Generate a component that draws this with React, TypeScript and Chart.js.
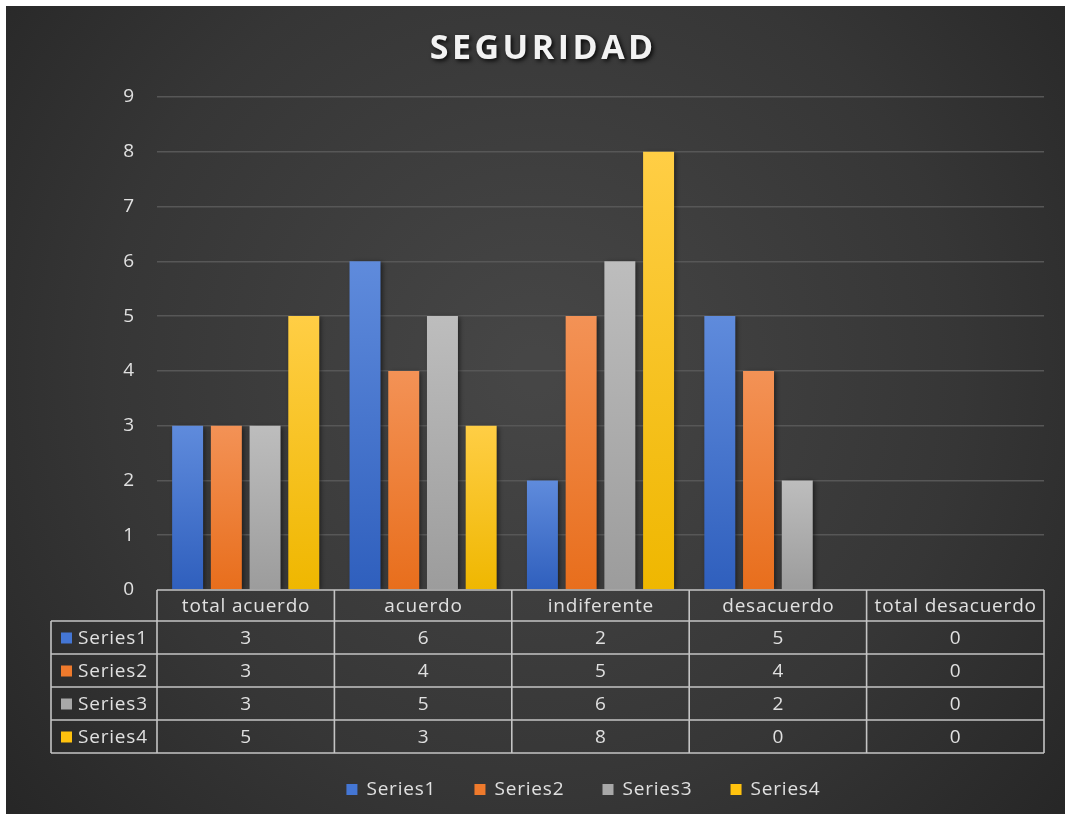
import React, { useEffect, useRef } from "react";
import { Chart, registerables } from "chart.js";

Chart.register(...registerables);

const TITLE = "SEGURIDAD";
const CATEGORIES = ["total acuerdo", "acuerdo", "indiferente", "desacuerdo", "total desacuerdo"];
const SERIES_NAMES = ["Series1", "Series2", "Series3", "Series4"];
const SERIES1 = [3, 6, 2, 5, 0];
const SERIES2 = [3, 4, 5, 4, 0];
const SERIES3 = [3, 5, 6, 2, 0];
const SERIES4 = [5, 3, 8, 0, 0];
const SERIES_VALUES = [SERIES1, SERIES2, SERIES3, SERIES4];
const Y_MIN = 0;
const Y_MAX = 9;
const Y_STEP = 1;

const SWATCH = ["#4476d4", "#ef7a2c", "#a8a8a8", "#ffc20e"];
const GRAD_TOP = ["#5f8bdc", "#f39256", "#bdbdbd", "#ffce45"];
const GRAD_BOTTOM = ["#2f5fbd", "#e86e1c", "#9c9c9c", "#efb700"];

const FONT = "'Open Sans', 'DejaVu Sans', sans-serif";
const TEXT_COLOR = "#e0e0e0";
const LS = 0.8;
const FS = 19;

function drawSpaced(ctx: CanvasRenderingContext2D, text: string, x: number, y: number, align: "left" | "center", ls: number) {
  (ctx as any).letterSpacing = ls + "px";
  ctx.textAlign = "left";
  const w = ctx.measureText(text).width - ls;
  const sx = align === "center" ? x - w / 2 : x;
  ctx.fillText(text, sx, y);
  (ctx as any).letterSpacing = "0px";
}

const backgroundPlugin = {
  id: "bgPlugin",
  beforeDraw(chart: any) {
    const { ctx, width, height } = chart;
    ctx.save();
    const g = ctx.createRadialGradient(width * 0.5, height * 0.45, 20, width * 0.5, height * 0.45, 700);
    g.addColorStop(0, "#464646");
    g.addColorStop(0.6, "#363636");
    g.addColorStop(1, "#262626");
    ctx.fillStyle = g;
    ctx.fillRect(0, 0, width, height);
    ctx.restore();
  },
};

const shadowPlugin = {
  id: "barShadow",
  beforeDatasetsDraw(chart: any) {
    const ctx = chart.ctx;
    ctx.save();
    ctx.shadowColor = "rgba(0,0,0,0.55)";
    ctx.shadowBlur = 5;
    ctx.shadowOffsetX = 2;
    ctx.shadowOffsetY = 1;
  },
  afterDatasetsDraw(chart: any) {
    chart.ctx.restore();
  },
};

const overlayPlugin = {
  id: "overlay",
  afterDraw(chart: any) {
    const { ctx, chartArea } = chart;
    const xScale = chart.scales.x;
    ctx.save();

    // Title
    ctx.font = `bold 34px ${FONT}`;
    ctx.textBaseline = "middle";
    ctx.fillStyle = "#f2f2f2";
    ctx.shadowColor = "rgba(0,0,0,0.85)";
    ctx.shadowBlur = 4;
    ctx.shadowOffsetX = 2;
    ctx.shadowOffsetY = 2;
    drawSpaced(ctx, TITLE, chart.width / 2 + 6, 43, "center", 3.5);
    ctx.shadowColor = "transparent";
    ctx.shadowBlur = 0;
    ctx.shadowOffsetX = 0;
    ctx.shadowOffsetY = 0;

    // Data table
    const n = CATEGORIES.length;
    const colW = (chartArea.right - chartArea.left) / n;
    const xs: number[] = [];
    for (let i = 0; i <= n; i++) {
      const c = i < n ? xScale.getPixelForValue(i) - colW / 2 : xScale.getPixelForValue(n - 1) + colW / 2;
      xs.push(c);
    }
    const labelLeft = 45;
    const headerTop = chartArea.bottom;
    const headerH = 31;
    const rowH = 33;
    const headerBottom = headerTop + headerH;
    const bottom = headerBottom + rowH * SERIES_NAMES.length;

    ctx.strokeStyle = "#c4c4c4";
    ctx.lineWidth = 1.6;
    ctx.beginPath();
    ctx.moveTo(xs[0], headerTop);
    ctx.lineTo(xs[n], headerTop);
    for (let r = 0; r <= SERIES_NAMES.length; r++) {
      const y = headerBottom + r * rowH;
      ctx.moveTo(labelLeft, y);
      ctx.lineTo(xs[n], y);
    }
    ctx.moveTo(labelLeft, headerBottom);
    ctx.lineTo(labelLeft, bottom);
    for (let i = 0; i <= n; i++) {
      ctx.moveTo(xs[i], headerTop);
      ctx.lineTo(xs[i], bottom);
    }
    ctx.stroke();

    ctx.font = `${FS}px ${FONT}`;
    ctx.fillStyle = TEXT_COLOR;
    ctx.textBaseline = "middle";
    for (let i = 0; i < n; i++) {
      drawSpaced(ctx, CATEGORIES[i], (xs[i] + xs[i + 1]) / 2, headerTop + headerH / 2 + 1, "center", LS);
    }
    for (let r = 0; r < SERIES_NAMES.length; r++) {
      const cy = headerBottom + r * rowH + rowH / 2 + 1;
      ctx.fillStyle = SWATCH[r];
      ctx.fillRect(labelLeft + 10, cy - 6, 11, 11);
      ctx.fillStyle = TEXT_COLOR;
      drawSpaced(ctx, SERIES_NAMES[r], labelLeft + 27, cy, "left", LS);
      for (let i = 0; i < n; i++) {
        drawSpaced(ctx, String(SERIES_VALUES[r][i]), (xs[i] + xs[i + 1]) / 2, cy, "center", LS);
      }
    }

    // Legend
    const legendY = 784;
    const gap = 39;
    const widths = SERIES_NAMES.map((s) => {
      (ctx as any).letterSpacing = LS + "px";
      const w = ctx.measureText(s).width - LS;
      (ctx as any).letterSpacing = "0px";
      return 11 + 9 + w;
    });
    const total = widths.reduce((a, b) => a + b, 0) + gap * (widths.length - 1);
    let lx = 577 - total / 2;
    for (let r = 0; r < SERIES_NAMES.length; r++) {
      ctx.fillStyle = SWATCH[r];
      ctx.fillRect(lx, legendY - 6, 11, 11);
      ctx.fillStyle = TEXT_COLOR;
      drawSpaced(ctx, SERIES_NAMES[r], lx + 20, legendY, "left", LS);
      lx += widths[r] + gap;
    }

    ctx.restore();
  },
};

export default function App() {
  const ref = useRef<HTMLCanvasElement | null>(null);

  useEffect(() => {
    if (!ref.current) return;
    const makeGradient = (i: number) => (c: any) => {
      const chart = c.chart;
      const y = chart.scales?.y;
      if (!chart.chartArea || !y || c.parsed == null) return SWATCH[i];
      const top = y.getPixelForValue(c.parsed.y);
      const base = y.getPixelForValue(0);
      if (!isFinite(top) || Math.abs(base - top) < 1) return SWATCH[i];
      const g = chart.ctx.createLinearGradient(0, top, 0, base);
      g.addColorStop(0, GRAD_TOP[i]);
      g.addColorStop(1, GRAD_BOTTOM[i]);
      return g;
    };

    const chart = new Chart(ref.current, {
      type: "bar",
      data: {
        labels: CATEGORIES,
        datasets: SERIES_NAMES.map((name, i) => ({
          label: name,
          data: SERIES_VALUES[i],
          backgroundColor: makeGradient(i),
          borderWidth: 0,
          categoryPercentage: 0.873,
          barPercentage: 0.8,
        })),
      },
      options: {
        animation: false,
        responsive: false,
        layout: { padding: { left: 0, right: 21, top: 91, bottom: 224 } },
        plugins: {
          legend: { display: false },
          title: { display: false },
          tooltip: { enabled: false },
        },
        scales: {
          x: { display: false },
          y: {
            min: Y_MIN,
            max: Y_MAX,
            ticks: {
              stepSize: Y_STEP,
              color: TEXT_COLOR,
              font: { family: FONT, size: FS },
              padding: 23,
            },
            grid: {
              color: (c: any) => (c.tick && c.tick.value === 0 ? "rgba(0,0,0,0)" : "#575757"),
              lineWidth: 1.6,
              drawTicks: false,
            },
            border: { display: false },
            afterFit: (s: any) => {
              s.width = 151;
            },
          },
        },
      },
      plugins: [backgroundPlugin, shadowPlugin, overlayPlugin],
    } as any);
    return () => chart.destroy();
  }, []);

  return (
    <div style={{ position: "absolute", left: 6, top: 6, width: 1059, height: 808 }}>
      <canvas ref={ref} width={1059} height={808} style={{ display: "block" }} />
    </div>
  );
}
